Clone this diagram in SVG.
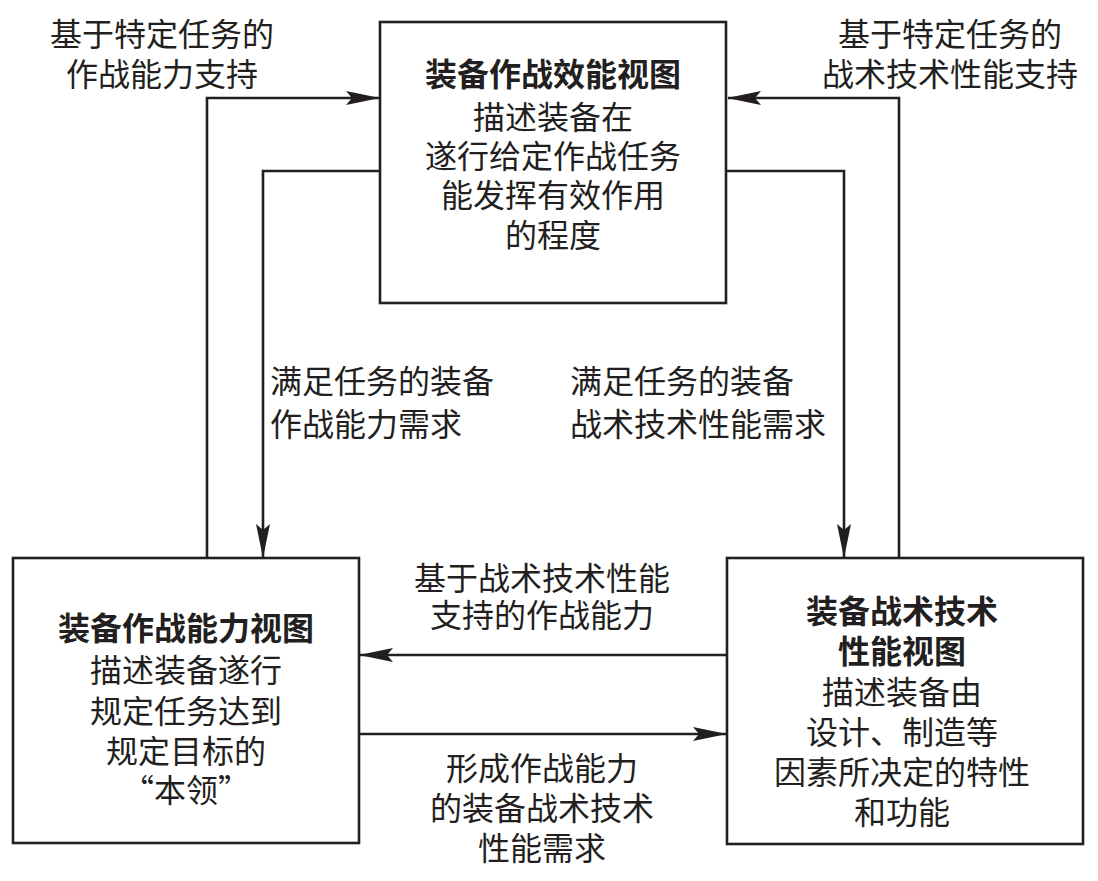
<svg xmlns="http://www.w3.org/2000/svg" width="1098" height="881" viewBox="0 0 1098 881">
<style>
text{font-family:"Noto Sans CJK SC","Noto Sans CJK JP",sans-serif;font-size:32px;fill:#231f20;text-anchor:middle}
.b{font-weight:bold}
.l{text-anchor:start}
.box{fill:#fff;stroke:#231f20;stroke-width:2.6}
.c{fill:none;stroke:#231f20;stroke-width:2.6}
</style>
<defs>
<marker id="ah" viewBox="0 0 34 14" refX="33" refY="7" markerWidth="34" markerHeight="14" markerUnits="userSpaceOnUse" orient="auto">
<path d="M0,0 L34,7 L0,14 L6,7 Z" fill="#231f20"/>
</marker>
</defs>
<rect width="1098" height="881" fill="#fff"/>
<g id="connectors">
<path class="c" d="M207,558 V98 H379" marker-end="url(#ah)"/>
<path class="c" d="M380,171 H263 V557" marker-end="url(#ah)"/>
<path class="c" d="M899,558 V98 H728" marker-end="url(#ah)"/>
<path class="c" d="M727,171 H844 V557" marker-end="url(#ah)"/>
<path class="c" d="M727,655 H360" marker-end="url(#ah)"/>
<path class="c" d="M359,734 H726" marker-end="url(#ah)"/>
</g>
<g id="n-effect">
<rect class="box" x="380" y="22" width="346" height="281"/>
<text class="b" x="553" y="86">装备作战效能视图</text>
<text x="553" y="129">描述装备在</text>
<text x="553" y="168">遂行给定作战任务</text>
<text x="553" y="207">能发挥有效作用</text>
<text x="553" y="247">的程度</text>
</g>
<g id="n-capability">
<rect class="box" x="13" y="558" width="346" height="285"/>
<text class="b" x="186" y="640">装备作战能力视图</text>
<text x="186" y="682">描述装备遂行</text>
<text x="186" y="723">规定任务达到</text>
<text x="186" y="763">规定目标的</text>
<text x="186" y="802">“本领”</text>
</g>
<g id="n-tech">
<rect class="box" x="727" y="558" width="356" height="286"/>
<text class="b" x="902" y="623">装备战术技术</text>
<text class="b" x="902" y="663">性能视图</text>
<text x="902" y="704">描述装备由</text>
<text x="902" y="744">设计、制造等</text>
<text x="902" y="784">因素所决定的特性</text>
<text x="902" y="824">和功能</text>
</g>
<g id="labels">
<text x="162" y="46">基于特定任务的</text>
<text x="162" y="86">作战能力支持</text>
<text x="950" y="46">基于特定任务的</text>
<text x="950" y="86">战术技术性能支持</text>
<text class="l" x="270" y="393">满足任务的装备</text>
<text class="l" x="270" y="436">作战能力需求</text>
<text class="l" x="570" y="393">满足任务的装备</text>
<text class="l" x="570" y="436">战术技术性能需求</text>
<text x="542" y="590">基于战术技术性能</text>
<text x="542" y="627">支持的作战能力</text>
<text x="542" y="780">形成作战能力</text>
<text x="542" y="820">的装备战术技术</text>
<text x="542" y="860">性能需求</text>
</g>
</svg>
